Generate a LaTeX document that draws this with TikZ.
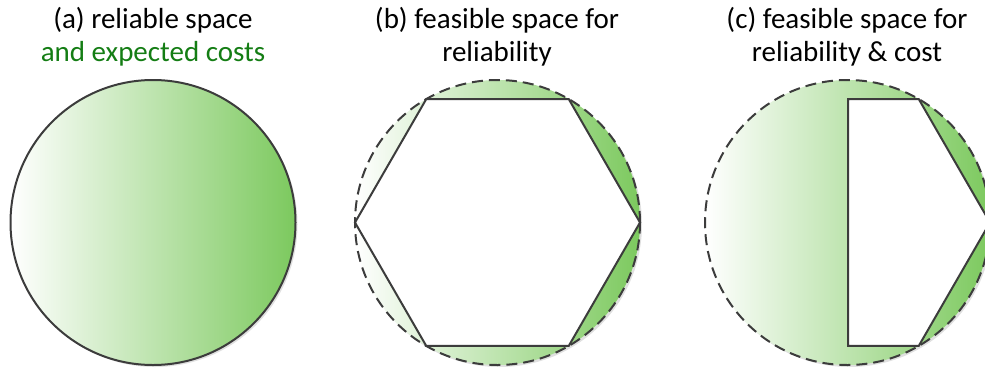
\documentclass[tikz,border=0pt]{standalone}
\usepackage{fontspec}
\setmainfont{Carlito}
\begin{document}
\begin{tikzpicture}[x=1pt,y=-1pt]
\definecolor{gA}{RGB}{124,201,94}
\definecolor{tgreen}{RGB}{20,125,20}
\definecolor{edge}{RGB}{60,60,60}
\tikzset{
  title/.style={font=\fontsize{29}{33}\selectfont, align=center, text=black},
  outline/.style={draw=edge, line width=2pt},
  dashedline/.style={draw=edge, line width=2pt, dash pattern=on 11pt off 6pt},
  shade/.style={left color=white, right color=gA, shading angle=90},
  shadow/.style={fill=black!12, draw=none}
}
\useasboundingbox (0,0) rectangle (985,370);
% titles
\node[title] (ta) at (153,37) {(a) reliable space\\ \textcolor{tgreen}{and expected costs}};
\node[title] (tb) at (497,37) {(b) feasible space for\\ reliability};
\node[title] (tc) at (847,37) {(c) feasible space for\\ reliability \& cost};
% (a)
\fill[shadow] (155,224.5) circle (142.5);
\path[shade] (153,222.5) circle (142.5);
\draw[outline] (153,222.5) circle (142.5);
% (b)
\fill[shadow] (499.5,224.5) circle (142.5);
\path[shade] (497.5,222.5) circle (142.5);
\fill[white] (355,222.5) -- (426.25,99.1) -- (568.75,99.1) -- (640,222.5) -- (568.75,345.9) -- (426.25,345.9) -- cycle;
\draw[outline, line join=miter] (355,222.5) -- (426.25,99.1) -- (568.75,99.1) -- (640,222.5) -- (568.75,345.9) -- (426.25,345.9) -- cycle;
\draw[dashedline] (497.5,222.5) circle (142.5);
% (c)
\fill[shadow] (849.5,224.5) circle (142.5);
\path[shade] (847.5,222.5) circle (142.5);
\fill[white] (848,99.1) -- (918.75,99.1) -- (990,222.5) -- (918.75,345.9) -- (848,345.9) -- cycle;
\draw[outline] (990,222.5) -- (918.75,99.1) -- (848,99.1) -- (848,345.9) -- (918.75,345.9) -- (990,222.5);
\draw[dashedline] (847.5,222.5) circle (142.5);
\end{tikzpicture}
\end{document}
